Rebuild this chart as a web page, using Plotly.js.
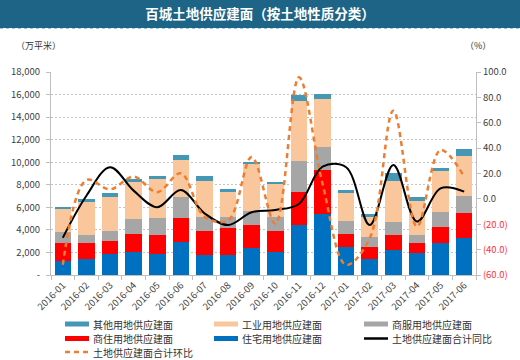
<!DOCTYPE html>
<html><head><meta charset="utf-8">
<script src="https://cdn.plot.ly/plotly-3.0.1.min.js"></script>
<style>html,body{margin:0;padding:0;background:#fff}#chart{width:520px;height:360px}</style>
</head><body><div id="chart"></div>
<script>
// ---- data ----
const months = ['2016-01','2016-02','2016-03','2016-04','2016-05','2016-06','2016-07','2016-08','2016-09','2016-10','2016-11','2016-12','2017-01','2017-02','2017-03','2017-04','2017-05','2017-06'];
const residential = [1270,1420,1880,2070,1890,2950,1770,1740,2420,2070,4460,5370,2480,1390,2180,1920,2800,3310];   // 住宅用地
const commercialResidential = [1530,1380,1160,1570,1650,2070,2130,2450,2010,1800,2920,3930,1150,1090,1330,910,1480,2180]; // 商住用地
const commercialService = [980,750,900,1330,1480,1910,1260,910,1270,1290,2710,2090,1120,910,1150,740,1270,1530]; // 商服用地
const industrial = [2060,2950,3010,3240,3480,3310,3190,2220,4100,2900,5340,4250,2510,1710,3660,3010,3660,3540]; // 工业用地
const other = [150,230,290,300,320,380,410,290,230,170,560,440,260,270,740,380,320,570]; // 其他用地
const totalYoY = [-30.6,2.5,24.9,6.5,-6.6,7.0,-11.4,-20.6,-10.5,-8.7,-4.0,25.4,24.9,-20.6,26.7,-17.9,8.3,5.7]; // 合计同比 %
const totalMoM = [-52.0,14.9,7.5,17.5,5.3,20.2,-14.0,-17.0,33.0,-19.5,95.8,12.0,-52.0,-31.0,69.5,-21.9,38.5,17.5]; // 合计环比 %

const leftTickVals = [0,2000,4000,6000,8000,10000,12000,14000,16000,18000];
const leftTickText = ['-','2,000','4,000','6,000','8,000','10,000','12,000','14,000','16,000','18,000'];
const rightTickVals = [-60,-40,-20,0,20,40,60,80,100];
const rightTickText = ['(60.0)','(40.0)','(20.0)','0.0','20.0','40.0','60.0','80.0','100.0'];

const names = {
  other:'其他用地供应建面', industrial:'工业用地供应建面', service:'商服用地供应建面',
  comres:'商住用地供应建面', res:'住宅用地供应建面', yoy:'土地供应建面合计同比', mom:'土地供应建面合计环比'
};
const colors = {
  res:'#0070c0', comres:'#ff0000', service:'#a6a6a6', industrial:'#f9c79b', other:'#4498b6',
  yoy:'#000000', mom:'#ed7d31'
};

// ---- layout geometry helpers ----
const W=520, H=360, L=51, R=476, T=72, B=275;
const px = x => (x-L)/(R-L);
const py = y => (B-y)/(B-T);
const FONT = '"Noto Sans CJK SC", "Noto Sans", sans-serif';

function bar(y, key){
  return {type:'bar', x:months, y:y, name:names[key], marker:{color:colors[key], line:{width:0}},
          showlegend:false, hoverinfo:'x+y+name'};
}
const traces = [
  bar(residential,'res'),
  bar(commercialResidential,'comres'),
  bar(commercialService,'service'),
  bar(industrial,'industrial'),
  bar(other,'other'),
  {type:'scatter', mode:'lines', x:months, y:totalYoY, yaxis:'y2', name:names.yoy,
   line:{color:colors.yoy, width:2, shape:'spline', smoothing:1}, showlegend:false},
  {type:'scatter', mode:'lines', x:months, y:totalMoM, yaxis:'y2', name:names.mom,
   line:{color:colors.mom, width:2.5, dash:'5px,4px', shape:'spline', smoothing:1}, showlegend:false}
];

// custom legend (3 columns)
const legendItems = [
  {key:'other', kind:'bar', col:0, row:0},
  {key:'industrial', kind:'bar', col:1, row:0},
  {key:'service', kind:'bar', col:2, row:0},
  {key:'comres', kind:'bar', col:0, row:1},
  {key:'res', kind:'bar', col:1, row:1},
  {key:'yoy', kind:'line', col:2, row:1},
  {key:'mom', kind:'dash', col:0, row:2}
];
const colX = [65, 214, 364];
const rowY = [324, 338.5, 352];
const shapes = [
  {type:'rect', xref:'paper', yref:'paper', x0:px(0), x1:px(W), y0:py(28), y1:py(0),
   fillcolor:'#1d6487', line:{width:0}, layer:'below'},
  {type:'line', xref:'paper', yref:'paper', x0:px(0), x1:px(W), y0:py(28.5), y1:py(28.5),
   line:{color:'#9cc3e0', width:1, dash:'dot'}}
];
const annotations = [
  {xref:'paper', yref:'paper', x:px(14), y:py(46), xanchor:'left', yanchor:'middle', showarrow:false,
   text:'（万平米）', font:{family:FONT, size:9, color:'#333'}},
  {xref:'paper', yref:'paper', x:px(478), y:py(46), xanchor:'center', yanchor:'middle', showarrow:false,
   text:'（%）', font:{family:FONT, size:9, color:'#333'}}
];
legendItems.forEach(it => {
  const x0 = colX[it.col], y = rowY[it.row];
  const sw = {type:'line', xref:'paper', yref:'paper', x0:px(x0), x1:px(x0+24), y0:py(y), y1:py(y),
              line:{color:colors[it.key], width: it.kind==='bar' ? 5 : 2.5}};
  if (it.kind==='dash') sw.line.dash = '5px,4px';
  shapes.push(sw);
  annotations.push({xref:'paper', yref:'paper', x:px(x0+26), y:py(y), xanchor:'left', yanchor:'middle',
    showarrow:false, text:names[it.key], font:{family:FONT, size:10, color:'#333'}});
});

const layout = {
  width:W, height:H,
  margin:{l:L, r:W-R, t:T, b:H-B, pad:0},
  paper_bgcolor:'#ffffff', plot_bgcolor:'#ffffff',
  font:{family:FONT, size:10, color:'#404040'},
  title:{text:'百城土地供应建面（按土地性质分类）', font:{family:FONT, size:13.5, color:'#ffffff', weight:'bold'},
         x:0.5, xref:'container', xanchor:'center', y:1-14/H, yref:'container', yanchor:'middle'},
  barmode:'stack', bargap:0.3,
  showlegend:false,
  xaxis:{type:'category', tickangle:-45, ticks:'outside', tickson:'boundaries', ticklen:4,
         tickcolor:'#bfbfbf', showline:true, linecolor:'#bfbfbf', linewidth:1,
         tickfont:{family:FONT, size:9.5, color:'#404040'}, showgrid:false, fixedrange:true},
  yaxis:{range:[0,18000], tickvals:leftTickVals, ticktext:leftTickText, showgrid:true,
         gridcolor:'#c4c4c4', griddash:'2px,2px', gridwidth:1, zeroline:false,
         showline:true, linecolor:'#bfbfbf', ticks:'outside', ticklen:4, tickcolor:'#bfbfbf',
         ticklabelstandoff:4, tickfont:{family:FONT, size:9.5, color:'#404040'}, fixedrange:true},
  yaxis2:{range:[-60,100], overlaying:'y', side:'right', tickvals:rightTickVals,
         ticktext:rightTickText.map((t,i)=> rightTickVals[i]<0 ? '<span style="color:#ff3030">'+t+'</span>' : t),
         showgrid:false, zeroline:false, showline:true, linecolor:'#bfbfbf', ticks:'outside', ticklen:4,
         tickcolor:'#bfbfbf', tickfont:{family:FONT, size:9.5, color:'#404040'}, fixedrange:true},
  shapes:shapes, annotations:annotations
};
Plotly.newPlot('chart', traces, layout, {displayModeBar:false, staticPlot:true});
</script></body></html>
